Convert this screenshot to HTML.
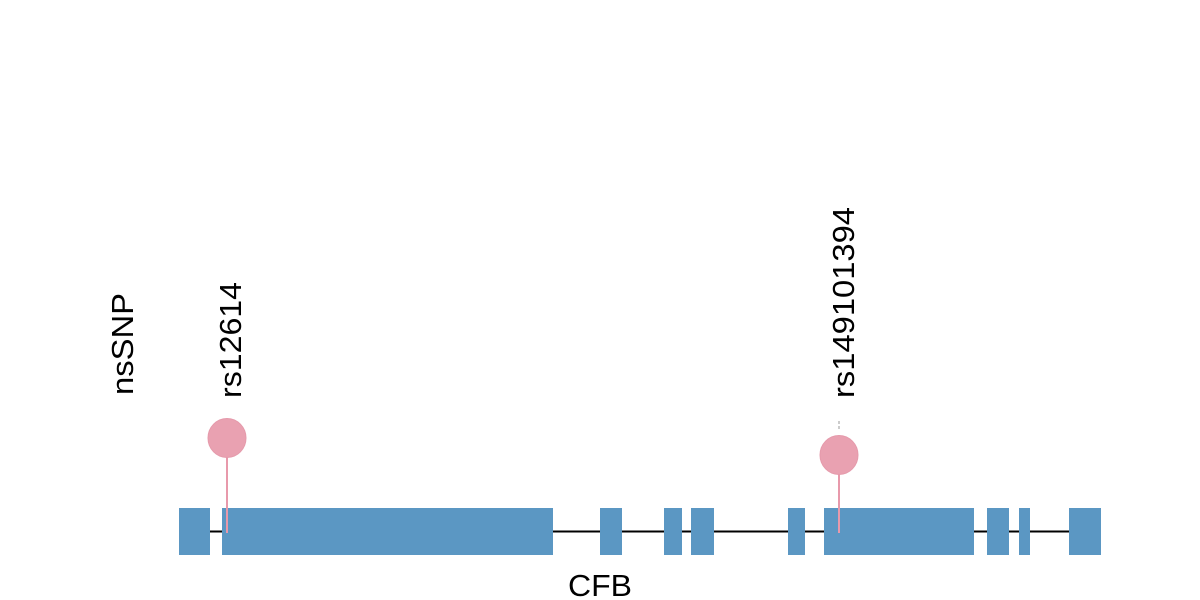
<!DOCTYPE html>
<html><head><style>html,body{margin:0;padding:0;background:#fff}svg{display:block}</style></head>
<body>
<svg width="1200" height="600" viewBox="0 0 1200 600" xmlns="http://www.w3.org/2000/svg" font-family="Liberation Sans, sans-serif">
<line x1="179" y1="531.5" x2="1101" y2="531.5" stroke="#000" stroke-width="2"/>
<g fill="#5b97c3">
<rect x="179" y="508" width="31" height="47"/>
<rect x="222" y="508" width="331" height="47"/>
<rect x="600" y="508" width="22" height="47"/>
<rect x="664" y="508" width="18" height="47"/>
<rect x="691" y="508" width="23" height="47"/>
<rect x="788" y="508" width="17" height="47"/>
<rect x="824" y="508" width="150" height="47"/>
<rect x="987" y="508" width="22" height="47"/>
<rect x="1019" y="508" width="11" height="47"/>
<rect x="1069" y="508" width="32" height="47"/>
</g>
<line x1="839" y1="421" x2="839" y2="429" stroke="#bbb" stroke-width="1.5" stroke-dasharray="3,2"/>
<g stroke="#e899ab" stroke-width="2">
<line x1="227" y1="450" x2="227" y2="533"/>
<line x1="839" y1="466" x2="839" y2="533"/>
</g>
<ellipse cx="227" cy="438" rx="19" ry="19.5" fill="#e9a1b1" stroke="#e59aab"/>
<ellipse cx="839" cy="455" rx="19" ry="19.5" fill="#e9a1b1" stroke="#e59aab"/>
<g font-size="31" fill="#000">
<text transform="translate(241,398) rotate(-90)" textLength="116" lengthAdjust="spacingAndGlyphs">rs12614</text>
<text transform="translate(854,398) rotate(-90)" textLength="191" lengthAdjust="spacingAndGlyphs">rs149101394</text>
<text transform="translate(133,395) rotate(-90)" textLength="102" lengthAdjust="spacingAndGlyphs">nsSNP</text>
<text x="568" y="596" textLength="64" lengthAdjust="spacingAndGlyphs">CFB</text>
</g>
</svg>
</body></html>
